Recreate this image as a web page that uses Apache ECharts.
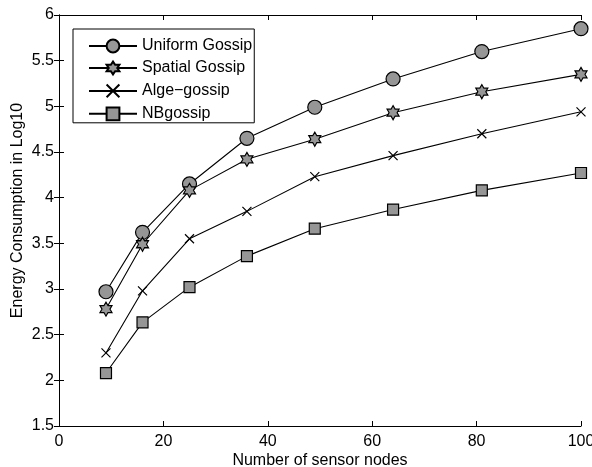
<!DOCTYPE html>
<html>
<head>
<meta charset="utf-8">
<script src="https://cdn.jsdelivr.net/npm/echarts@6/dist/echarts.min.js"></script>
<style>
html,body{margin:0;padding:0;background:#fff;}
#chart{width:592px;height:467px;}
</style>
</head>
<body>
<div id="chart"></div>
<script>
var xNodes = [9, 16, 25, 36, 49, 64, 81, 100];
var uniformGossip = [2.97, 3.62, 4.15, 4.65, 4.99, 5.30, 5.60, 5.85];
var spatialGossip = [2.78, 3.49, 4.08, 4.42, 4.64, 4.93, 5.16, 5.35];
var algeGossip = [2.30, 2.98, 3.55, 3.85, 4.23, 4.46, 4.70, 4.94];
var nbGossip = [2.08, 2.635, 3.02, 3.36, 3.66, 3.87, 4.08, 4.27];
var seriesNames = ['Uniform Gossip', 'Spatial Gossip', 'Alge\u2212gossip', 'NBgossip'];
var xLabel = 'Number of sensor nodes';
var yLabel = 'Energy Consumption in Log10';

function pairs(ys) { return xNodes.map(function (x, i) { return [x, ys[i]]; }); }

var FONT = "'Liberation Sans', Arial, sans-serif";
var FS = 16;
var hexagram = 'path://M0,-10 L2.887,-5 L8.66,-5 L5.774,0 L8.66,5 L2.887,5 L0,10 L-2.887,5 L-8.66,5 L-5.774,0 L-8.66,-5 L-2.887,-5 Z';
var crossPath = 'path://M0,0 L10,10 M10,0 L0,10';
var markFill = '#969696';

function mkSeries(name, ys, symbol, size, fill) {
  return {
    name: name, type: 'line', data: pairs(ys),
    symbol: symbol, symbolSize: size, showSymbol: true,
    lineStyle: { color: '#000', width: 1.1 },
    itemStyle: { color: fill, borderColor: '#000', borderWidth: 1.2 },
    emphasis: { disabled: true },
    animation: false, z: 3
  };
}

var chart = echarts.init(document.getElementById('chart'));
var axisCommon = {
  type: 'value',
  axisLine: { show: true, lineStyle: { color: '#000', width: 1 } },
  axisTick: { show: true, inside: true, length: 5, lineStyle: { color: '#000' } },
  splitLine: { show: false },
  axisLabel: { color: '#000', fontFamily: FONT, fontSize: FS }
};
chart.setOption({
  animation: false,
  backgroundColor: '#fff',
  grid: { left: 59, right: 11, top: 15, bottom: 41, containLabel: false, outerBoundsMode: 'none' },
  legend: {
    orient: 'vertical', left: 73, top: 29,
    data: seriesNames,
    backgroundColor: '#fff',
    borderColor: '#000', borderWidth: 1, borderRadius: 0,
    padding: [9, 2, 1, 15],
    itemWidth: 48, itemHeight: 16, itemGap: 6,
    textStyle: { color: '#000', fontFamily: FONT, fontSize: FS, lineHeight: 16 },
    selectedMode: false
  },
  xAxis: [
    Object.assign({}, axisCommon, {
      min: 0, max: 100, interval: 20, position: 'bottom',
      name: xLabel, nameLocation: 'middle', nameGap: 27, nameMoveOverlap: false,
      nameTextStyle: { color: '#000', fontFamily: FONT, fontSize: FS },
      axisLabel: { color: '#000', fontFamily: FONT, fontSize: FS, margin: 8 }
    }),
    Object.assign({}, axisCommon, {
      min: 0, max: 100, interval: 20, position: 'top',
      axisLabel: { show: false }
    })
  ],
  yAxis: [
    Object.assign({}, axisCommon, {
      min: 1.5, max: 6, interval: 0.5, position: 'left',
      name: yLabel, nameLocation: 'middle', nameGap: 33, nameMoveOverlap: false,
      nameTextStyle: { color: '#000', fontFamily: FONT, fontSize: FS, padding: [0, 0, 0, 20] },
      axisLabel: { color: '#000', fontFamily: FONT, fontSize: FS, margin: 5 }
    }),
    Object.assign({}, axisCommon, {
      min: 1.5, max: 6, interval: 0.5, position: 'right',
      axisLabel: { show: false }
    })
  ],
  series: [
    mkSeries(seriesNames[0], uniformGossip, 'circle', 14, markFill),
    mkSeries(seriesNames[1], spatialGossip, hexagram, [12, 14], markFill),
    mkSeries(seriesNames[2], algeGossip, crossPath, 9, 'none'),
    mkSeries(seriesNames[3], nbGossip, 'rect', 11, markFill)
  ]
});
</script>
</body>
</html>
